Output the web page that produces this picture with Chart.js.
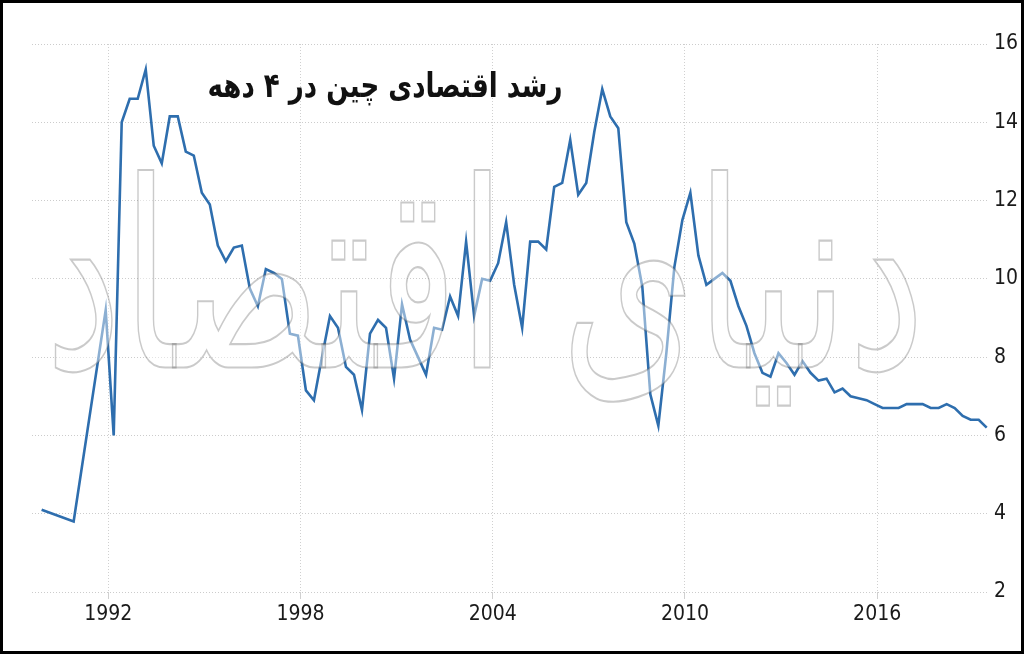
<!DOCTYPE html>
<html>
<head>
<meta charset="utf-8">
<script src="https://cdn.jsdelivr.net/npm/chart.js@4"></script>
<style>
  html, body { margin: 0; padding: 0; background: #fff; }
  #wrap { width: 1024px; height: 654px; position: relative; }
</style>
</head>
<body>
<div id="wrap"><canvas id="c" width="1024" height="654"></canvas></div>
<script>
// ---- data ----
const periods = [
  '1989-Q4','1990-Q4','1991-Q4',
  '1992-Q1','1992-Q2','1992-Q3','1992-Q4',
  '1993-Q1','1993-Q2','1993-Q3','1993-Q4',
  '1994-Q1','1994-Q2','1994-Q3','1994-Q4',
  '1995-Q1','1995-Q2','1995-Q3','1995-Q4',
  '1996-Q1','1996-Q2','1996-Q3','1996-Q4',
  '1997-Q1','1997-Q2','1997-Q3','1997-Q4',
  '1998-Q1','1998-Q2','1998-Q3','1998-Q4',
  '1999-Q1','1999-Q2','1999-Q3','1999-Q4',
  '2000-Q1','2000-Q2','2000-Q3','2000-Q4',
  '2001-Q1','2001-Q2','2001-Q3','2001-Q4',
  '2002-Q1','2002-Q2','2002-Q3','2002-Q4',
  '2003-Q1','2003-Q2','2003-Q3','2003-Q4',
  '2004-Q1','2004-Q2','2004-Q3','2004-Q4',
  '2005-Q1','2005-Q2','2005-Q3','2005-Q4',
  '2006-Q1','2006-Q2','2006-Q3','2006-Q4',
  '2007-Q1','2007-Q2','2007-Q3','2007-Q4',
  '2008-Q1','2008-Q2','2008-Q3','2008-Q4',
  '2009-Q1','2009-Q2','2009-Q3','2009-Q4',
  '2010-Q1','2010-Q2','2010-Q3','2010-Q4',
  '2011-Q1','2011-Q2','2011-Q3','2011-Q4',
  '2012-Q1','2012-Q2','2012-Q3','2012-Q4',
  '2013-Q1','2013-Q2','2013-Q3','2013-Q4',
  '2014-Q1','2014-Q2','2014-Q3','2014-Q4',
  '2015-Q1','2015-Q2','2015-Q3','2015-Q4',
  '2016-Q1','2016-Q2','2016-Q3','2016-Q4',
  '2017-Q1','2017-Q2','2017-Q3','2017-Q4',
  '2018-Q1','2018-Q2','2018-Q3','2018-Q4',
  '2019-Q1','2019-Q2'
];
const growth = [
  4.1, 3.8, 9.2,
  6.0, 14.0, 14.6, 14.6,
  15.35, 13.4, 12.95, 14.15,
  14.15, 13.25, 13.15, 12.2,
  11.9, 10.85, 10.45, 10.8,
  10.85, 9.75, 9.3, 10.25,
  10.15, 10.0, 8.6, 8.55,
  7.15, 6.9, 8.0, 9.05,
  8.75, 7.75, 7.55, 6.65,
  8.6, 8.95, 8.75, 7.45,
  9.35, 8.45, 8.0, 7.55,
  8.75, 8.7, 9.55, 9.05,
  10.95, 9.05, 10.0, 9.95,
  10.4, 11.45, 9.85, 8.75,
  10.95, 10.95, 10.75, 12.35,
  12.45, 13.55, 12.15, 12.45,
  13.75, 14.85, 14.15, 13.85,
  11.45, 10.9, 9.8, 7.05,
  6.25, 8.1, 10.3, 11.5,
  12.2, 10.6, 9.85, 10.0,
  10.15, 9.95, 9.3, 8.8,
  8.1, 7.6, 7.5, 8.1,
  7.85, 7.55, 7.9, 7.6,
  7.4, 7.45, 7.1, 7.2,
  7.0, 6.95, 6.9, 6.8,
  6.7, 6.7, 6.7, 6.8,
  6.8, 6.8, 6.7, 6.7,
  6.8, 6.7, 6.5, 6.4,
  6.4, 6.2
];
const xTickYears = [1992, 1998, 2004, 2010, 2016];
const yTicks = [2, 4, 6, 8, 10, 12, 14, 16];
const titleText = 'رشد اقتصادی چین در ۴ دهه';
const watermarkText = 'دنیای اقتصاد';

// ---- build points ----
function periodToX(p) {
  const [y, q] = p.split('-Q');
  return Number(y) + (Number(q) - 1) * 0.25 + 0.17;
}
const points = periods.map((p, i) => ({ x: periodToX(p), y: growth[i] }));

const overlayPlugin = {
  id: 'overlay',
  afterDatasetsDraw(chart) {
    const ctx = chart.ctx;
    // watermark
    ctx.save();
    ctx.font = '200px "DejaVu Sans"';
    ctx.textAlign = 'center';
    ctx.textBaseline = 'middle';
    ctx.direction = 'rtl';
    const w = ctx.measureText(watermarkText).width;
    const sx = 880 / w;
    ctx.translate(485, 300);
    ctx.scale(sx, 1.3);
    ctx.fillStyle = 'rgba(255,255,255,0.45)';
    ctx.fillText(watermarkText, 0, 0);
    ctx.lineWidth = 1.4 / sx;
    ctx.strokeStyle = 'rgba(90,90,90,0.32)';
    ctx.strokeText(watermarkText, 0, 0);
    ctx.restore();
  },
  afterDraw(chart) {
    const ctx = chart.ctx;
    // title
    ctx.save();
    ctx.font = 'bold 34px "DejaVu Sans"';
    ctx.textAlign = 'center';
    ctx.textBaseline = 'middle';
    ctx.direction = 'rtl';
    const tw = ctx.measureText(titleText).width;
    ctx.translate(385, 88);
    ctx.scale(355 / tw, 1);
    ctx.fillStyle = '#111';
    ctx.fillText(titleText, 0, 0);
    ctx.restore();
    // frame
    ctx.save();
    ctx.strokeStyle = '#000';
    ctx.lineWidth = 3;
    ctx.strokeRect(1.5, 1.5, 1021, 651);
    ctx.restore();
  }
};

new Chart(document.getElementById('c'), {
  type: 'line',
  data: {
    datasets: [{
      data: points,
      borderColor: '#2e6eae',
      borderWidth: 2.6,
      pointRadius: 0,
      tension: 0,
      fill: false
    }]
  },
  options: {
    responsive: false,
    animation: false,
    devicePixelRatio: 1,
    layout: { padding: { left: 32, top: 44, right: 0, bottom: 0 } },
    plugins: { legend: { display: false }, tooltip: { enabled: false } },
    scales: {
      x: {
        type: 'linear',
        min: 1989.62,
        max: 2019.46,
        afterBuildTicks(scale) { scale.ticks = xTickYears.map(v => ({ value: v })); },
        afterFit(scale) { scale.height = 62; },
        grid: {
          color: '#d0d0d0',
          tickLength: 7,
          drawTicks: true
        },
        border: { display: false, dash: [1, 2] },
        ticks: {
          callback: v => String(v),
          color: '#1a1a1a',
          padding: 3,
          maxRotation: 0,
          font: { family: '"Liberation Sans Narrow", "DejaVu Sans Condensed", sans-serif', size: 21 }
        }
      },
      y: {
        position: 'right',
        min: 2,
        max: 16,
        afterBuildTicks(scale) { scale.ticks = yTicks.map(v => ({ value: v })); },
        afterFit(scale) { scale.width = 36; },
        grid: {
          color: '#cccccc',
          drawTicks: false
        },
        border: { display: false, dash: [1, 2] },
        ticks: {
          color: '#1a1a1a',
          padding: 6,
          font: { family: '"Liberation Sans Narrow", "DejaVu Sans Condensed", sans-serif', size: 21 }
        }
      }
    }
  },
  plugins: [overlayPlugin]
});
</script>
</body>
</html>
